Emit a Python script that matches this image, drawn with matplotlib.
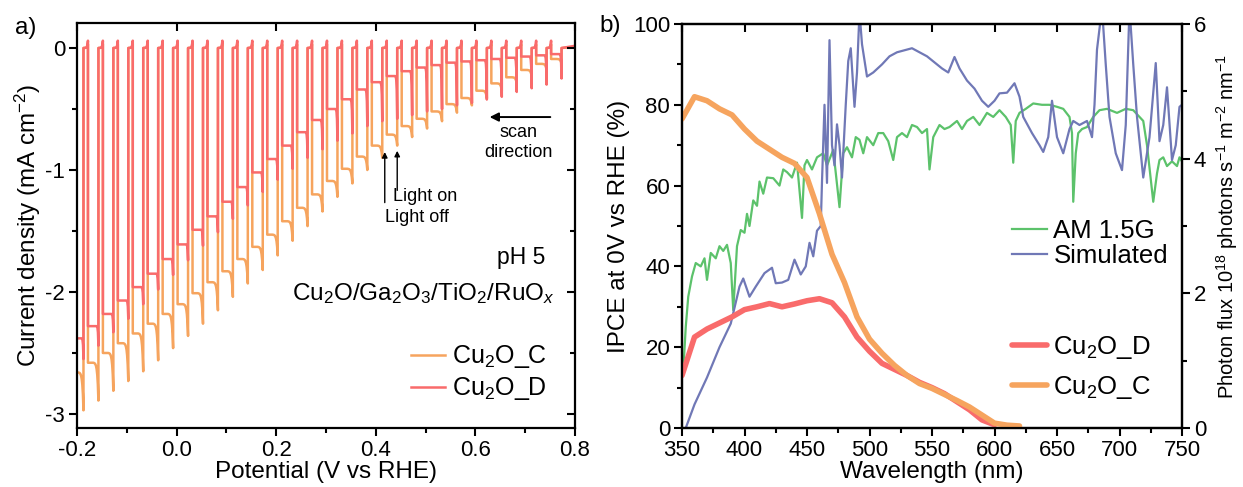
import numpy as np
import matplotlib
matplotlib.use("Agg")
import matplotlib.pyplot as plt

plt.rcParams['font.family'] = ['Liberation Sans', 'DejaVu Sans']
plt.rcParams['mathtext.fontset'] = 'custom'
plt.rcParams['mathtext.rm'] = 'Liberation Sans'
plt.rcParams['mathtext.it'] = 'Liberation Sans:italic'
plt.rcParams['font.size'] = 16

# ---- panel a: chopped-light LSV (scan goes 0.8 -> -0.2 V) ----
# potential at which the light is switched on for every pulse
v_on = [0.773, 0.743, 0.713, 0.683, 0.653, 0.623, 0.593, 0.563, 0.533, 0.503, 0.473,
        0.443, 0.413, 0.383, 0.353, 0.323, 0.293, 0.263, 0.233, 0.203, 0.173, 0.143,
        0.113, 0.083, 0.053, 0.023, -0.007, -0.037, -0.067, -0.097, -0.127, -0.157, -0.187]
# Cu2O_C: current right after light on / just before light off (mA cm-2)
c_on = [-0.13, -0.18, -0.23, -0.29, -0.35, -0.41, -0.47, -0.53, -0.60, -0.66, -0.73,
        -0.80, -0.90, -1.00, -1.11, -1.22, -1.34, -1.46, -1.58, -1.70, -1.82, -1.93,
        -2.04, -2.15, -2.26, -2.36, -2.46, -2.56, -2.65, -2.73, -2.81, -2.89, -2.97]
c_off = [-0.09, -0.13, -0.18, -0.24, -0.29, -0.35, -0.41, -0.46, -0.52, -0.58, -0.64,
         -0.71, -0.80, -0.89, -0.99, -1.09, -1.20, -1.31, -1.42, -1.53, -1.63, -1.73,
         -1.83, -1.92, -2.01, -2.10, -2.18, -2.26, -2.34, -2.42, -2.50, -2.58, -2.66]
# Cu2O_D
d_on = [-0.25, -0.30, -0.33, -0.36, -0.40, -0.42, -0.45, -0.47, -0.50, -0.52, -0.55,
        -0.58, -0.60, -0.64, -0.70, -0.76, -0.83, -0.90, -0.99, -1.08, -1.18, -1.29,
        -1.40, -1.51, -1.62, -1.74, -1.86, -1.98, -2.10, -2.22, -2.33, -2.44, -2.55]
d_off = [-0.05, -0.06, -0.07, -0.08, -0.09, -0.10, -0.11, -0.12, -0.14, -0.16, -0.19,
         -0.23, -0.28, -0.34, -0.42, -0.50, -0.59, -0.69, -0.80, -0.91, -1.02, -1.14,
         -1.26, -1.38, -1.49, -1.61, -1.73, -1.85, -1.96, -2.07, -2.18, -2.28, -2.38]

# ---- panel b: IPCE ----
wl_ipce = [350, 360, 370, 380, 390, 400, 410, 420, 430, 440, 450, 460, 470, 480, 490,
           500, 510, 520, 530, 540, 550, 560, 570, 580, 590, 600, 610, 620]
ipce_c = [76.5, 82, 81, 79, 77.5, 74, 71, 69, 67, 65.5, 62, 53, 43, 36, 27.5,
          22, 18.5, 15.5, 13, 11, 9.8, 8.3, 6.8, 5.2, 3.2, 1.2, 0.7, 0.5]
wl_ipce_d = [350, 360, 370, 380, 390, 400, 410, 420, 430, 440, 450, 460, 470, 480, 490,
             500, 510, 520, 530, 540, 550, 560, 570, 580, 590, 600]
ipce_d = [13, 22.5, 24.5, 26, 27.5, 29.3, 30, 30.8, 30, 30.7, 31.5, 32, 31, 27.5, 22.5,
          19, 16, 14.5, 13, 11.3, 10, 8.5, 6.5, 4.5, 2, 0.8]

# photon flux, 1e18 photons s-1 m-2 nm-1
wl_am = [351, 353, 355, 358, 361, 365, 368, 370, 373, 377, 380, 383, 386, 389, 391, 394,
         397, 400, 402, 404, 407, 410, 412, 415, 418, 423, 428, 431, 434, 438, 442, 446,
         448, 450, 454, 458, 463, 466, 471, 476, 479, 482, 486, 489, 492, 495, 498, 503,
         507, 511, 515, 519, 522, 526, 530, 534, 538, 542, 546, 548, 551, 556, 560, 564,
         570, 574, 578, 583, 588, 594, 599, 604, 609, 613, 615, 617, 620, 625, 631, 638,
         644, 650, 655, 660, 662, 663, 665, 667, 670, 674, 679, 684, 690, 698, 705, 711,
         716, 719, 722, 727, 730, 732, 735, 738, 742, 746, 748, 750]
flux_am = [0.84, 1.50, 1.95, 2.25, 2.45, 2.40, 2.52, 2.20, 2.60, 2.52, 2.70, 2.63, 2.72, 2.45,
           1.75, 2.70, 2.94, 2.90, 3.18, 3.00, 3.38, 3.30, 3.66, 3.48, 3.72, 3.71, 3.60, 3.84,
           3.80, 3.72, 3.94, 3.12, 3.90, 3.98, 3.84, 4.02, 4.08, 3.90, 4.13, 3.28, 4.08, 4.17,
           4.02, 4.32, 4.28, 4.08, 4.32, 4.20, 4.38, 4.38, 4.26, 3.98, 4.32, 4.38, 4.32, 4.50,
           4.47, 4.38, 4.44, 3.84, 4.32, 4.50, 4.44, 4.47, 4.56, 4.44, 4.56, 4.62, 4.50, 4.68,
           4.62, 4.72, 4.62, 4.50, 3.94, 4.56, 4.68, 4.74, 4.82, 4.80, 4.80, 4.77, 4.74, 4.62,
           4.38, 3.36, 4.08, 4.38, 4.44, 4.47, 4.62, 4.72, 4.74, 4.68, 4.74, 4.72, 4.62, 4.56,
           4.20, 3.36, 3.78, 3.98, 4.02, 3.89, 3.96, 3.89, 4.02, 3.96]
wl_sim = [353, 360, 370, 380, 389, 396, 399, 404, 409, 416, 422, 425, 430, 435, 440, 445,
          449, 452, 455, 458, 461, 462, 464, 466, 468, 470, 472, 474, 476, 478, 481, 483,
          485, 488, 490, 492, 494, 498, 503, 510, 516, 522, 528, 534, 540, 546, 552, 558,
          563, 568, 572, 578, 584, 590, 595, 600, 604, 610, 616, 620, 623, 630, 636, 639,
          643, 646, 650, 655, 660, 663, 668, 674, 678, 680, 682, 686, 689, 692, 697, 702,
          705, 708, 711, 714, 719, 724, 729, 732, 735, 738, 742, 745, 748, 750]
flux_sim = [0.0, 0.35, 0.75, 1.20, 1.55, 2.10, 2.22, 1.95, 2.10, 2.30, 2.38, 2.15, 2.16, 2.20,
            2.50, 2.28, 2.40, 2.75, 2.55, 2.93, 3.00, 3.66, 4.80, 3.64, 5.76, 4.20, 3.90, 4.51,
            4.20, 3.72, 4.80, 5.45, 5.64, 4.77, 5.28, 6.18, 5.70, 5.22, 5.28, 5.40, 5.52, 5.58,
            5.61, 5.64, 5.58, 5.52, 5.43, 5.34, 5.28, 5.51, 5.34, 5.16, 5.04, 4.86, 4.77, 4.86,
            4.97, 4.98, 5.12, 4.92, 4.62, 4.38, 4.20, 4.10, 4.32, 4.86, 4.32, 4.08, 4.44, 4.56,
            4.50, 4.56, 4.32, 4.80, 5.62, 6.24, 5.40, 4.62, 4.08, 3.83, 4.50, 6.24, 5.40, 4.62,
            3.72, 4.32, 5.42, 4.26, 4.50, 5.06, 3.98, 4.20, 4.77, 4.80]

col_c = '#F6A45E'
col_d = '#F96B6B'
col_am = '#5CC26B'
col_sim = '#7078B6'

LIGHT_SPAN = 0.021


def chopped(on, j_on, j_off, peak, relax):
    # build the square-wave trace in scan order
    V = [0.8]
    J = [peak * 0.3]
    for k in range(len(on)):
        von = on[k]
        voff = von - LIGHT_SPAN
        V += [von, von]
        J += [0.0, j_on[k]]
        t = np.linspace(0, 1, 10)
        V += list(von - relax * LIGHT_SPAN * t)
        J += list(j_off[k] + (j_on[k] - j_off[k]) * np.exp(-4 * t) * (1 - t))
        V += [voff, voff]
        J += [j_off[k], peak]
        t = np.linspace(0, 1, 6)
        V += list(voff - 0.004 * t)
        J += list(peak * np.exp(-3 * t))
    return np.array(V), np.array(J)


def style_ax(ax):
    for s in ax.spines.values():
        s.set_linewidth(1.6)
    ax.tick_params(which='both', width=1.5, labelsize=16, pad=3)
    ax.tick_params(which='major', length=5.5)
    ax.tick_params(which='minor', length=3.5)


def mirror(ax, xt, yt, ymin=None, right=True):
    # inward ticks on top (and right) like the original plot
    m = ax.figure.add_axes(ax.get_position(), frameon=False)
    m.set_xlim(ax.get_xlim())
    m.set_ylim(ax.get_ylim())
    m.set_xticks(xt)
    m.set_yticks(yt if right else [])
    if ymin is not None and right:
        m.set_yticks(ymin, minor=True)
    m.tick_params(which='both', direction='in', top=True, right=right, bottom=False, left=False,
                  labelbottom=False, labelleft=False, width=1.5)
    m.tick_params(which='major', length=5.5)
    m.tick_params(which='minor', length=3.5)
    m.patch.set_visible(False)
    return m


fig = plt.figure(figsize=(12.43, 4.87), dpi=100)
ax1 = fig.add_axes([77 / 1243, 59 / 487, 498 / 1243, 405 / 487])
ax2 = fig.add_axes([682 / 1243, 59 / 487, 500 / 1243, 404 / 487])

# panel a
vc, jc = chopped(v_on, c_on, c_off, 0.03, 0.5)
vd, jd = chopped(v_on, d_on, d_off, 0.06, 0.2)
ax1.plot(vc, jc, color=col_c, lw=1.8, label='Cu$_2$O_C')
ax1.plot(vd, jd, color=col_d, lw=1.8, label='Cu$_2$O_D')
ax1.set_xlim(-0.2, 0.8)
ax1.set_ylim(-3.115, 0.205)
xt1 = [-0.2, 0.0, 0.2, 0.4, 0.6, 0.8]
ax1.set_xticks(xt1)
ax1.set_xticklabels(['-0.2', '0.0', '0.2', '0.4', '0.6', '0.8'])
ax1.set_yticks([0, -1, -2, -3])
ax1.set_yticklabels(['0', '-1', '-2', '-3'])
ax1.set_xticks([-0.1, 0.1, 0.3, 0.5, 0.7], minor=True)
ax1.set_yticks([-0.5, -1.5, -2.5], minor=True)
style_ax(ax1)
ax1.tick_params(which='both', direction='out', top=False, right=False)
mirror(ax1, xt1, [0, -1, -2, -3], ymin=[-0.5, -1.5, -2.5])
ax1.set_xlabel('Potential (V vs RHE)', fontsize=17.5, labelpad=0)
ax1.set_ylabel('Current density (mA cm$^{-2}$)', fontsize=17.5, labelpad=2)

ax1.text(0.94, 0.42, 'pH 5', transform=ax1.transAxes, ha='right', va='center', fontsize=16.5)
ax1.text(0.96, 0.333, 'Cu$_2$O/Ga$_2$O$_3$/TiO$_2$/RuO$_x$', transform=ax1.transAxes,
         ha='right', va='center', fontsize=17.5)
ax1.legend(loc='center left', bbox_to_anchor=(0.671, 0.136), frameon=False, fontsize=18,
           handlelength=1.36, handletextpad=0.28, labelspacing=0.2, borderpad=0,
           borderaxespad=0)

ax1.annotate('', xy=(0.623, -0.566), xytext=(0.756, -0.566),
             arrowprops=dict(arrowstyle='-|>', color='k', lw=1.4, mutation_scale=13))
ax1.text(0.686, -0.69, 'scan', ha='center', va='center', fontsize=13)
ax1.text(0.686, -0.86, 'direction', ha='center', va='center', fontsize=13)
ax1.annotate('', xy=(0.418, -0.83), xytext=(0.418, -1.29),
             arrowprops=dict(arrowstyle='-|>', color='k', lw=1.0, mutation_scale=8))
ax1.annotate('', xy=(0.443, -0.82), xytext=(0.443, -1.19),
             arrowprops=dict(arrowstyle='-|>', color='k', lw=1.0, mutation_scale=8))
ax1.text(0.435, -1.22, 'Light on', ha='left', va='center', fontsize=13)
ax1.text(0.418, -1.39, 'Light off', ha='left', va='center', fontsize=13)

# panel b
ax3 = ax2.twinx()
ax2.plot(wl_ipce_d, ipce_d, color=col_d, lw=4, label='Cu$_2$O_D', solid_capstyle='round')
ax2.plot(wl_ipce, ipce_c, color=col_c, lw=4, label='Cu$_2$O_C', solid_capstyle='round')
ax3.plot(wl_am, flux_am, color=col_am, lw=1.6, label='AM 1.5G')
ax3.plot(wl_sim, flux_sim, color=col_sim, lw=1.6, label='Simulated')
ax2.set_xlim(350, 750)
ax2.set_ylim(0, 100)
ax3.set_ylim(0, 6)
xt2 = list(range(350, 751, 50))
ax2.set_xticks(xt2)
ax2.set_xticks(list(range(375, 750, 50)), minor=True)
ax2.set_yticks(list(range(0, 101, 20)))
ax2.set_yticks(list(range(10, 100, 20)), minor=True)
ax3.set_yticks([0, 2, 4, 6])
ax3.set_yticks([1, 3, 5], minor=True)
style_ax(ax2)
style_ax(ax3)
ax2.tick_params(which='both', direction='out', top=False, right=False)
ax3.tick_params(which='both', direction='out')
ax2.set_zorder(ax3.get_zorder() + 1)
ax2.patch.set_visible(False)
mirror(ax2, xt2, [], right=False)
ax2.set_xlabel('Wavelength (nm)', fontsize=17.5, labelpad=0)
ax2.set_ylabel('IPCE at 0V vs RHE (%)', fontsize=17.5, labelpad=2)
ax3.set_ylabel('Photon flux 10$^{18}$ photons s$^{-1}$ m$^{-2}$ nm$^{-1}$', fontsize=14.5, labelpad=6)

ax3.legend(loc='center left', bbox_to_anchor=(0.66, 0.457), frameon=False, fontsize=18.5,
           handlelength=1.36, handletextpad=0.25, labelspacing=0.05, borderpad=0,
           borderaxespad=0)
ax2.legend(loc='center left', bbox_to_anchor=(0.66, 0.15), frameon=False, fontsize=18.5,
           handlelength=1.36, handletextpad=0.25, labelspacing=0.5, borderpad=0,
           borderaxespad=0)

fig.text(26 / 1243, 1 - 28 / 487, 'a)', ha='center', va='center', fontsize=17.5)
fig.text(610 / 1243, 1 - 26 / 487, 'b)', ha='center', va='center', fontsize=17.5)

fig.savefig('out.png', dpi=100)
